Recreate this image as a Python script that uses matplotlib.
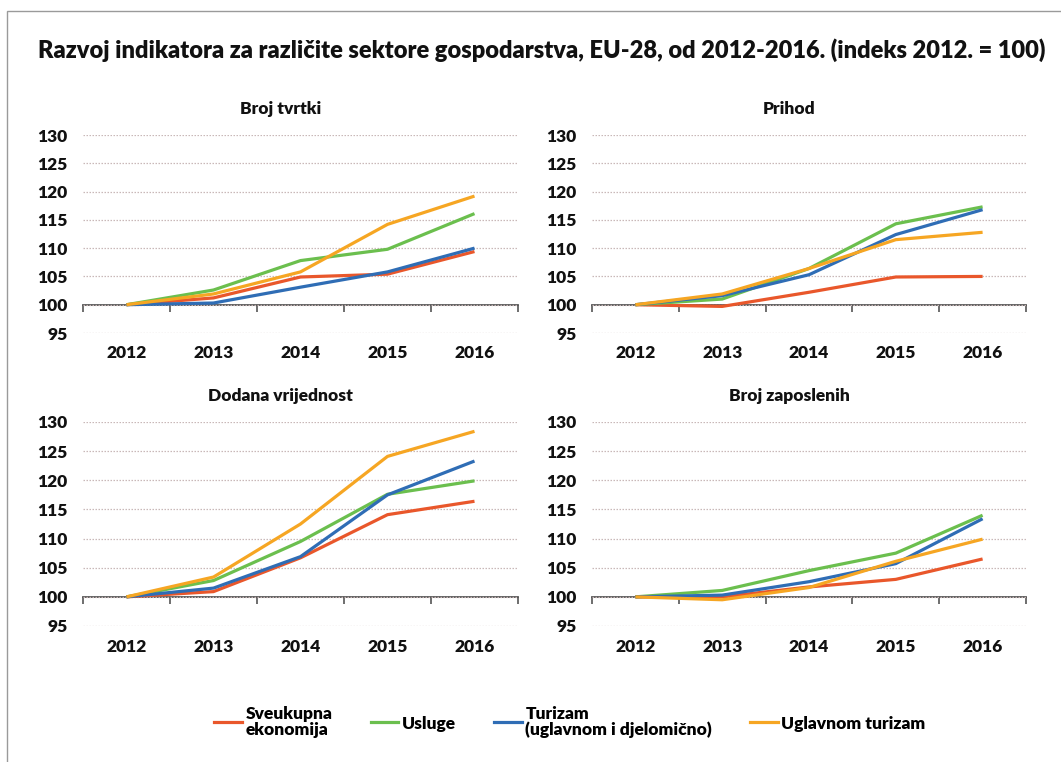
"""Razvoj indikatora za različite sektore gospodarstva, EU-28 (indeks 2012. = 100)."""
import numpy as np
import matplotlib
matplotlib.use('Agg')
from matplotlib import pyplot as plt
from matplotlib.patches import Rectangle

plt.rcParams['font.family'] = ['Lato', 'DejaVu Sans']
plt.rcParams['font.weight'] = 'heavy'

years = ['2012', '2013', '2014', '2015', '2016']
series_names = ['Sveukupna\nekonomija', 'Usluge', 'Turizam\n(uglavnom i djelomično)', 'Uglavnom turizam']
series_colors = ['#E9572B', '#6BBF4E', '#2F6DB5', '#F6A623']
y_ticks = [95, 100, 105, 110, 115, 120, 125, 130]

# Broj tvrtki
tvrtki_ukupno = [100, 101.2, 104.9, 105.4, 109.4]
tvrtki_usluge = [100, 102.6, 107.8, 109.8, 116.1]
tvrtki_turizam = [100, 100.3, 103.1, 105.8, 110.0]
tvrtki_uglavnom = [100, 101.9, 105.8, 114.2, 119.2]

# Prihod
prihod_ukupno = [100, 99.7, 102.2, 104.9, 105.0]
prihod_usluge = [100, 101.0, 106.4, 114.3, 117.3]
prihod_turizam = [100, 101.6, 105.3, 112.4, 116.8]
prihod_uglavnom = [100, 101.9, 106.4, 111.5, 112.8]

# Dodana vrijednost
dodana_ukupno = [100, 100.9, 106.7, 114.1, 116.4]
dodana_usluge = [100, 102.8, 109.5, 117.6, 119.9]
dodana_turizam = [100, 101.5, 106.9, 117.5, 123.3]
dodana_uglavnom = [100, 103.4, 112.5, 124.1, 128.4]

# Broj zaposlenih
zaposleni_ukupno = [100, 100.0, 101.7, 103.0, 106.5]
zaposleni_usluge = [100, 101.1, 104.5, 107.5, 114.0]
zaposleni_turizam = [100, 100.3, 102.6, 105.7, 113.4]
zaposleni_uglavnom = [100, 99.5, 101.6, 106.1, 109.9]

panels = [
    ('Broj tvrtki', [tvrtki_ukupno, tvrtki_usluge, tvrtki_turizam, tvrtki_uglavnom]),
    ('Prihod', [prihod_ukupno, prihod_usluge, prihod_turizam, prihod_uglavnom]),
    ('Dodana vrijednost', [dodana_ukupno, dodana_usluge, dodana_turizam, dodana_uglavnom]),
    ('Broj zaposlenih', [zaposleni_ukupno, zaposleni_usluge, zaposleni_turizam, zaposleni_uglavnom]),
]

W, H = 1061, 762
fig = plt.figure(figsize=(W / 100, H / 100), dpi=100)

# light frame round the chart
fig.patches.append(Rectangle((7 / W, -0.1), 1.2, 1 - 11 / H + 0.1, transform=fig.transFigure,
                             fill=False, edgecolor='#9a9a9a', linewidth=1.0))

fig.text(38 / W, 1 - 50 / H,
         'Razvoj indikatora za različite sektore gospodarstva, EU-28, od 2012-2016. (indeks 2012. = 100)',
         ha='left', va='center', fontsize=17, fontweight='heavy', color='#111111')

# axes boxes in pixels: left, top, right, bottom
boxes = [(83, 135, 518, 333), (592, 135, 1026, 333),
         (83, 422, 518, 626), (592, 422, 1026, 626)]

x = np.arange(len(years))
ymin, ymax = y_ticks[0], y_ticks[-1]

for (title, values), (l, t, r, b) in zip(panels, boxes):
    ax = fig.add_axes([l / W, 1 - b / H, (r - l) / W, (b - t) / H])
    for vals, color in zip(values, series_colors):
        ax.plot(x, vals, color=color, linewidth=2.3, solid_capstyle='butt', zorder=3)

    ax.set_xlim(-0.5, len(years) - 0.5)
    ax.set_ylim(ymin, ymax)
    ax.set_yticks(y_ticks)
    ax.set_yticklabels([str(v) for v in y_ticks], fontsize=12.5, fontweight='heavy', color='#111111')
    ax.set_xticks(x)
    ax.set_xticklabels(years, fontsize=12.5, fontweight='heavy', color='#111111')
    ax.tick_params(axis='both', length=0)
    ax.tick_params(axis='y', pad=11)
    ax.tick_params(axis='x', pad=9)
    for s in ax.spines.values():
        s.set_visible(False)
    ax.yaxis.grid(True, color='#c9b8b8', linestyle=(0, (1.2, 1.2)), linewidth=0.9)
    ax.set_axisbelow(True)

    # category axis crossing at 100, ticks between the years
    sec = ax.secondary_xaxis((100 - ymin) / (ymax - ymin))
    sec.set_xticks(np.arange(len(years) + 1) - 0.5)
    sec.set_xticklabels([])
    sec.tick_params(length=5, width=1.2, direction='out', color='#555555')
    sec.spines['bottom'].set_color('#555555')
    sec.spines['bottom'].set_linewidth(1.3)

    ax.set_title(title, x=0.455, pad=15, fontsize=12.5, fontweight='heavy', color='#111111')

handles = [plt.Line2D([], [], color=c, linewidth=2.3) for c in series_colors]
leg = fig.legend(handles, series_names, loc='center', bbox_to_anchor=(570 / W, 1 - 722 / H),
                 ncol=4, frameon=False, fontsize=12.5, handlelength=1.6, handletextpad=0.2,
                 columnspacing=2.2)
for txt in leg.get_texts():
    txt.set_linespacing(0.95)
    txt.set_fontweight('heavy')

fig.savefig('out.png', dpi=100, facecolor='white')
